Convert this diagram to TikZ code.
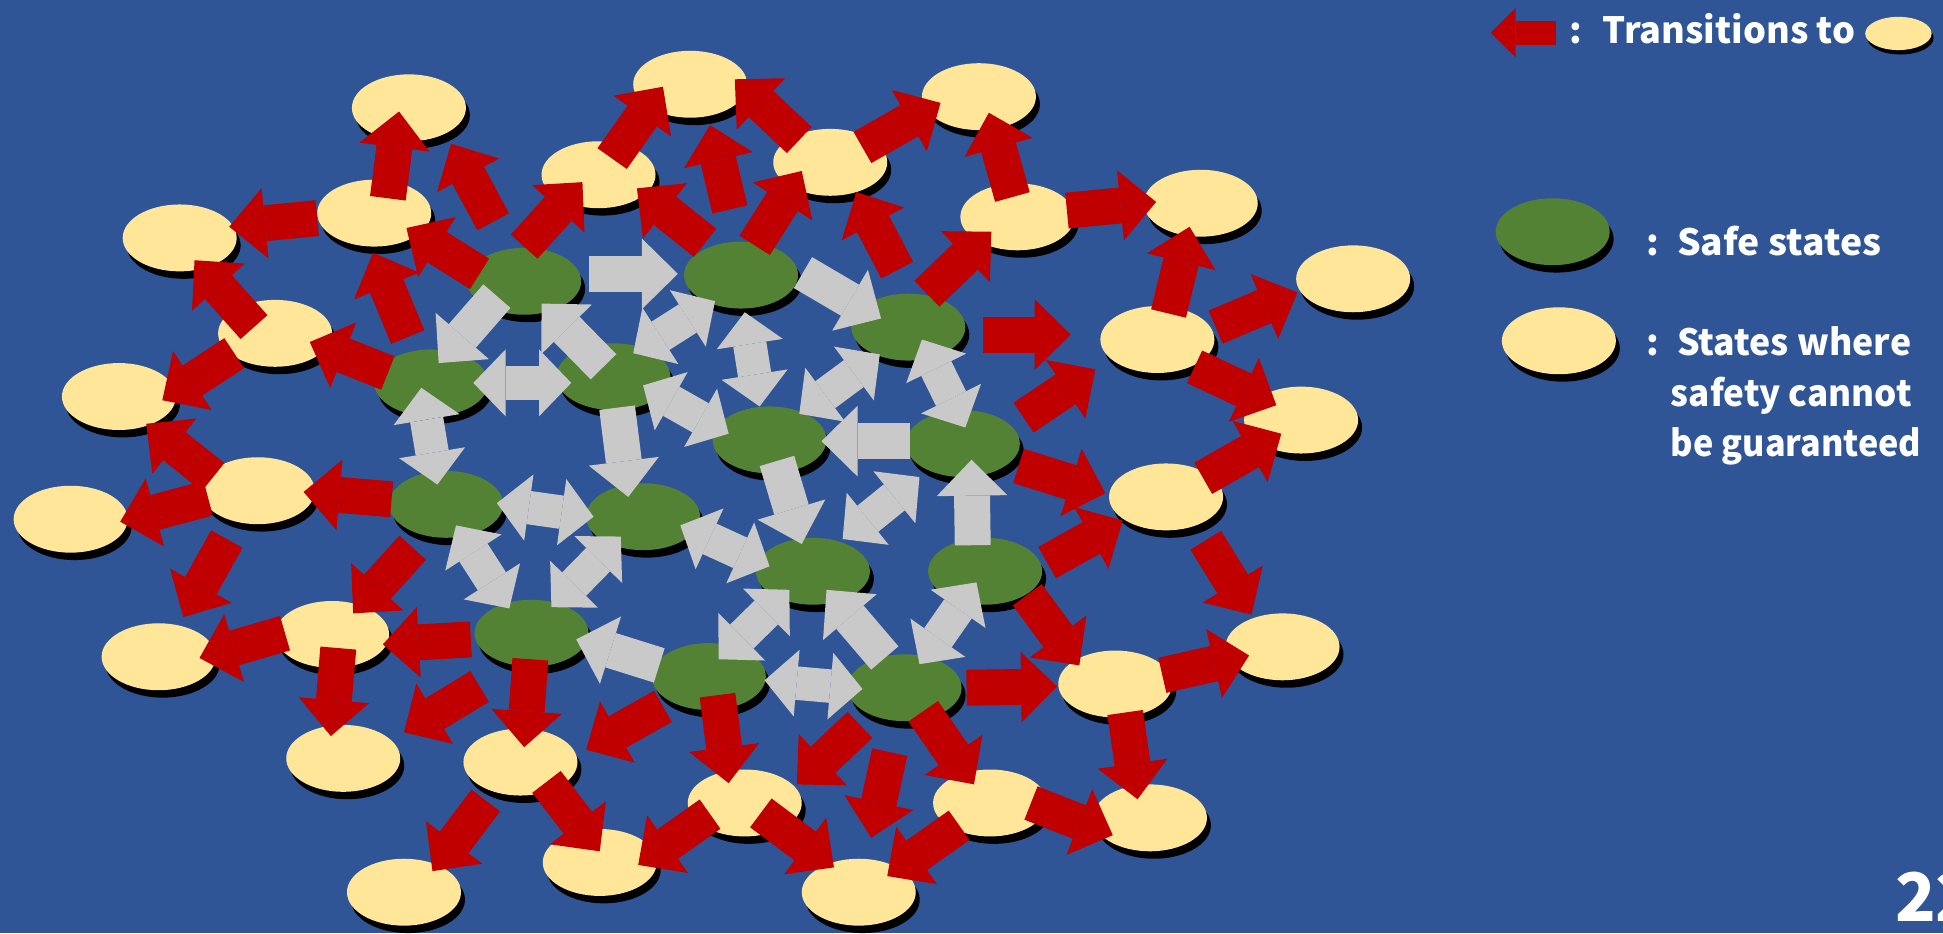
\documentclass[tikz,border=0pt]{standalone}
\usepackage{fontspec}
\setmainfont{Noto Sans CJK JP}
\usetikzlibrary{arrows.meta,shapes.geometric,shadows}
\definecolor{bgblue}{HTML}{2F5597}
\definecolor{sgreen}{HTML}{548235}
\definecolor{syellow}{HTML}{FFE699}
\definecolor{tred}{HTML}{C00000}
\definecolor{tgray}{HTML}{C9C9C9}
\begin{document}
\begin{tikzpicture}[x=0.5pt,y=-0.5pt,
  stbase/.style={ellipse, inner sep=0pt, minimum width=46pt, minimum height=27pt},
  bigshadow/.style={drop shadow={shadow xshift=1.6pt, shadow yshift=-3pt, opacity=1, fill=black}},
  safe/.style={stbase, bigshadow, fill=sgreen},
  unsafe/.style={stbase, bigshadow, fill=syellow},
  redarr/.style={draw=tred, line width=14.5pt, -{Triangle[width=28.5pt,length=14.5pt,line width=0pt]}},
  grayone/.style={draw=tgray, line width=14.5pt, -{Triangle[width=28.5pt,length=14.5pt,line width=0pt]}},
  graytwo/.style={draw=tgray, line width=13.5pt, {Triangle[width=27pt,length=13pt,line width=0pt]}-{Triangle[width=27pt,length=13pt,line width=0pt]}},
  txt/.style={text=white, inner sep=0pt, anchor=base west, font=\fontsize{14.6}{20}\selectfont\bfseries}
]
\fill[bgblue] (0,0) rectangle (1568,753);
\useasboundingbox (0,0) rectangle (1568,753);
% safe states
\foreach \n/\x/\y in {G1/423/227, G2/598/222, G3/733/264, G4/348/309, G5/495/304,
  G6/621/355, G7/777/358, G8/360/407, G9/519/417, G10/656/461, G11/795/461,
  G12/429/511, G13/572/546, G14/730/555}
  \node[safe] (\n) at (\x,\y) {};
% unsafe states
\foreach \n/\x/\y in {Y1/330/87, Y2/557/68, Y3/790/78, Y4/483/141, Y5/670/131,
  Y6/302/172, Y7/145/192, Y8/821/175, Y9/969/164, Y10/1092/225, Y11/222/269,
  Y12/934/274, Y13/96/320, Y14/1050/339, Y15/208/396, Y16/57/419, Y17/941/401,
  Y18/128/530, Y19/268/512, Y20/1035/522, Y21/900/552, Y22/277/612, Y23/420/615,
  Y24/601/648, Y25/799/648, Y26/928/660, Y27/484/696, Y28/326/720, Y29/693/720}
  \node[unsafe] (\n) at (\x,\y) {};
% gray single transitions
\foreach \xa/\ya/\xb/\yb in {475/221/547/221, 401/239/354/293, 487/296/437/245,
  498/329/507/401, 648/220/711/257, 734/356/663/356, 627/372/647/439,
  785/440/784/371, 714/531/667/476, 532/537/465/516}
  \draw[grayone] (\xa,\ya) -- (\xb,\yb);
% gray double transitions
\foreach \xa/\ya/\xb/\yb in {382/309/461/309, 511/285/577/243, 601/252/613/328,
  519/311/588/350, 340/313/353/391, 401/406/479/417, 368/424/411/491,
  445/490/501/433, 549/424/621/457, 680/435/742/385, 580/532/637/476,
  742/536/788/470, 617/549/696/556, 645/334/710/286, 744/274/779/345}
  \draw[graytwo] (\xa,\ya) -- (\xb,\yb);
% red transitions
\foreach \xa/\ya/\xb/\yb in {313/160/322/90, 398/179/364/116, 256/176/185/183,
  205/264/157/210, 189/285/131/323, 313/301/250/276, 329/272/301/204,
  387/221/328/184, 423/199/470/147, 494/128/535/70, 569/196/514/152,
  589/169/573/101, 609/198/647/138, 645/113/593/64, 696/119/759/83,
  724/218/691/155, 748/237/800/187, 817/159/798/91, 861/170/933/163,
  943/253/960/183, 981/264/1047/236, 964/296/1030/327, 971/386/1034/350,
  793/270/864/270, 826/337/884/298, 822/376/892/398, 845/454/906/420,
  973/436/1010/496, 829/480/871/537, 780/555/853/554, 938/545/1008/529,
  908/575/918/645, 832/648/898/674, 745/574/786/633, 694/585/643/633,
  718/607/703/676, 579/561/588/632, 614/656/673/700, 774/666/716/707,
  573/657/515/698, 316/403/245/397, 168/402/97/421, 183/435/148/498,
  333/442/285/495, 230/511/161/531, 273/523/267/594, 380/516/309/520,
  387/554/326/591, 428/532/423/603, 535/570/473/605, 392/646/349/703,
  441/631/484/687, 172/385/118/342}
  \draw[redarr] (\xa,\ya) -- (\xb,\yb);
% legend
\coordinate (la) at (1256,26.4);
\coordinate (lb) at (1203,26.4);
\draw[draw=tred, line width=9.8pt, -{Triangle[width=19.75pt,length=10pt,line width=0pt]}] (la) -- (lb);
\node[txt] (c1) at (1266,35.5) {:};
\node[txt] (t1) at (1293,35.5) {Transitions to};
\node[stbase, fill=syellow, minimum width=26.8pt, minimum height=13.4pt,
  drop shadow={shadow xshift=0.8pt, shadow yshift=-1.8pt, opacity=1, fill=black}] (lgT) at (1532,27) {};
\node[safe] (lgG) at (1253,187) {};
\node[txt] (c2) at (1328,206) {:};
\node[txt] (t2) at (1353,206) {\scalebox{1.03}[1]{Safe states}};
\node[unsafe] (lgY) at (1258,275) {};
\node[txt] (c3) at (1328,286.5) {:};
\node[txt] (t3) at (1353,286.5) {\scalebox{0.985}[1]{States where}};
\node[txt] (t4) at (1348,328) {\scalebox{0.97}[1]{safety cannot}};
\node[txt] (t5) at (1348,368) {\scalebox{0.945}[1]{be guaranteed}};
\node[txt, font=\fontsize{27}{30}\selectfont\bfseries] (pg) at (1529,744) {22};
\end{tikzpicture}
\end{document}
